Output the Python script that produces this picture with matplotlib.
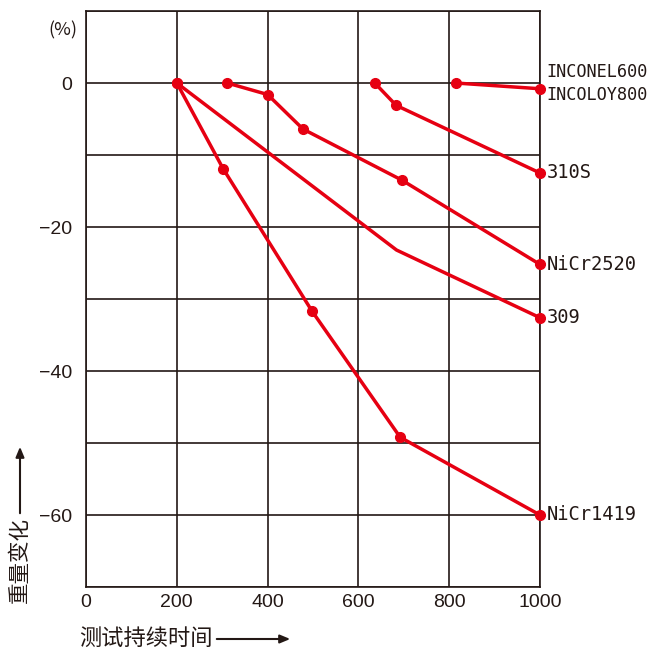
import matplotlib
matplotlib.use("Agg")
import matplotlib.pyplot as plt
from matplotlib.transforms import offset_copy

# ---- data ----
series_names = ["INCONEL600\nINCOLOY800", "310S", "NiCr2520", "309", "NiCr1419"]
inconel_x = [814, 1000]
inconel_y = [0, -0.8]
s310_x = [636, 683, 1000]
s310_y = [0, -3.1, -12.5]
nicr2520_x = [311, 400, 478, 696, 1000]
nicr2520_y = [0, -1.6, -6.4, -13.5, -25.2]
s309_x = [200, 684, 1000]
s309_y = [0, -23.2, -32.6]
s309_markers = [0, 2]
nicr1419_x = [200, 302, 498, 692, 1000]
nicr1419_y = [0, -11.9, -31.7, -49.2, -60]

xticks = [0, 200, 400, 600, 800, 1000]
yticks = [-70, -60, -50, -40, -30, -20, -10, 0, 10]
ytick_labels = ["", "\u221260", "", "\u221240", "", "\u221220", "", "0", ""]

RED = "#e60012"
GRID = "#231815"
TICKFONT = ["Liberation Sans", "DejaVu Sans"]
CJK = ["Noto Sans CJK SC", "DejaVu Sans"]

fig = plt.figure(figsize=(6.56, 6.57), dpi=100)
ax = fig.add_axes([86/656, 1-587/657, 454/656, 576/657])
ax.set_xlim(0, 1000)
ax.set_ylim(-70, 10)
ax.set_xticks(xticks)
ax.set_xticklabels([str(v) for v in xticks], fontsize=14, family=TICKFONT, color=GRID)
ax.set_yticks(yticks)
ax.set_yticklabels(ytick_labels, fontsize=14, family=TICKFONT, color=GRID)
ax.tick_params(axis="x", length=0, pad=5)
ax.tick_params(axis="y", length=0, pad=10)
ax.grid(True, color=GRID, linewidth=1.2)
ax.set_axisbelow(True)
for s in ax.spines.values():
    s.set_color(GRID)
    s.set_linewidth(1.2)

lw = 2.5
ms = 7
ax.plot(inconel_x, inconel_y, color=RED, lw=lw, marker="o", ms=ms, clip_on=False, zorder=5)
ax.plot(s310_x, s310_y, color=RED, lw=lw, marker="o", ms=ms, clip_on=False, zorder=5)
ax.plot(nicr2520_x, nicr2520_y, color=RED, lw=lw, marker="o", ms=ms, clip_on=False, zorder=5)
ax.plot(s309_x, s309_y, color=RED, lw=lw, marker="o", ms=ms, markevery=s309_markers, clip_on=False, zorder=5)
ax.plot(nicr1419_x, nicr1419_y, color=RED, lw=lw, marker="o", ms=ms, clip_on=False, zorder=5)

# end labels
ends = [(inconel_x[-1], 0.0), (s310_x[-1], s310_y[-1]), (nicr2520_x[-1], nicr2520_y[-1]),
        (s309_x[-1], s309_y[-1]), (nicr1419_x[-1], nicr1419_y[-1])]
tr = offset_copy(ax.transData, fig=fig, x=5, y=0, units="points")
tr2 = offset_copy(ax.transData, fig=fig, x=4.5, y=0, units="points")
LBL = dict(family="DejaVu Sans Mono", va="center", ha="left", color=GRID, clip_on=False)
for name, (ex, ey) in zip(series_names, ends):
    if "\n" in name:
        a, b = name.split("\n")
        ax.text(ex, 1.5, a, transform=tr2, fontsize=12.2, **LBL)
        ax.text(ex, -1.7, b, transform=tr2, fontsize=12.2, **LBL)
    else:
        ax.text(ex, ey, name, transform=tr, fontsize=13.5, **LBL)

# unit
fig.text(63/656, 1-30/657, "(%)", fontsize=13, ha="center", va="center", family=CJK, color=GRID)

# axis titles with arrows
fig.text(20/656, 1-560/657, "重量变化", rotation=90, fontsize=15.5, ha="center", va="center",
         family=CJK, color=GRID)
fig.text(146/656, 1-638/657, "测试持续时间", fontsize=16, ha="center", va="center",
         family=CJK, color=GRID)
ax.annotate("", xy=(20/656, 1-444/657), xytext=(20/656, 1-516/657), xycoords="figure fraction",
            textcoords="figure fraction",
            arrowprops=dict(arrowstyle="-|>,head_length=0.6,head_width=0.25", color=GRID, lw=1.5))
ax.annotate("", xy=(293/656, 1-639/657), xytext=(214/656, 1-639/657), xycoords="figure fraction",
            textcoords="figure fraction",
            arrowprops=dict(arrowstyle="-|>,head_length=0.6,head_width=0.25", color=GRID, lw=1.5))

fig.savefig("out.png", dpi=100)
